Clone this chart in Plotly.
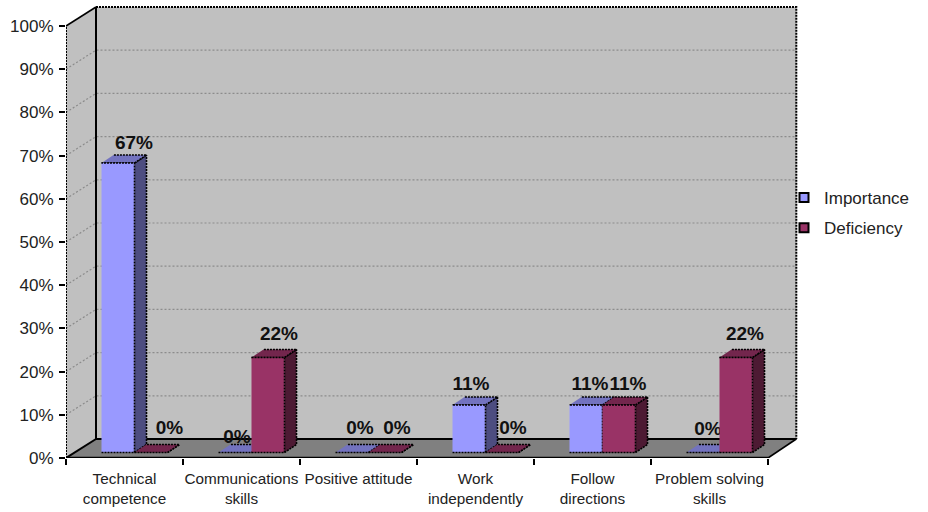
import plotly.graph_objects as go

categories = ["Technical<br>competence", "Communications<br>skills", "Positive attitude",
              "Work<br>independently", "Follow<br>directions", "Problem solving<br>skills"]
importance = [67, 0, 0, 11, 11, 0]
deficiency = [0, 22, 0, 0, 11, 22]
percent_ticks = list(range(0, 101, 10))

# Pixel scale of the axes and the oblique projection used for the 3D look
PX_X = 117.0
PX_Y = 4.32
WALL_DX = 30 / PX_X
WALL_DY = 19 / PX_Y
WALL_RIGHT = 6 + 28.3 / PX_X
BAR_W = 33 / PX_X
BAR_START = 35.5 / PX_X
BAR_DX = 12 / PX_X
BAR_DY = 8 / PX_Y
BAR_LIFT = 5.5 / PX_Y

# Small per-label nudges (px) of the value labels: right, up
imp_nudge = [(10, 11), (-4, 6), (2, 15), (-4, 11.5), (-2, 11.5), (-1, 14)]
def_nudge = [(12.5, 15), (5, 14), (6, 15), (5, 15), (3, 11.5), (3, 14)]

fig = go.Figure()


def poly(xs, ys, fill, line="rgba(0,0,0,0)", width=0, dash="solid"):
    fig.add_trace(go.Scatter(x=xs, y=ys, mode="lines", fill="toself", fillcolor=fill,
                             line=dict(color=line, width=width, dash=dash),
                             hoverinfo="skip", showlegend=False))


def edge(xs, ys, color="#000000", width=2, dash="solid"):
    fig.add_trace(go.Scatter(x=xs, y=ys, mode="lines",
                             line=dict(color=color, width=width, dash=dash),
                             hoverinfo="skip", showlegend=False))


# Walls and floor
poly([0, WALL_DX, WALL_DX, 0], [0, WALL_DY, 100 + WALL_DY, 100], "#C0C0C0")
poly([WALL_DX, WALL_RIGHT, WALL_RIGHT, WALL_DX],
     [WALL_DY, WALL_DY, 100 + WALL_DY, 100 + WALL_DY], "#C0C0C0")
poly([0, 6, WALL_RIGHT, WALL_DX], [0, 0, WALL_DY, WALL_DY], "#808080")

# Gridlines across the side and back walls
for v in percent_ticks[1:-1]:
    edge([0, WALL_DX, WALL_RIGHT], [v, v + WALL_DY, v + WALL_DY],
         color="#8C8C8C", width=1.2, dash="2px,2px")

# Wall and floor outlines
DOT = "2px,1px"
edge([0, 0], [0, 100], width=2, dash=DOT)
edge([0, WALL_DX], [100, 100 + WALL_DY], width=1.6)
edge([WALL_DX, WALL_RIGHT, WALL_RIGHT], [100 + WALL_DY, 100 + WALL_DY, WALL_DY], width=2, dash=DOT)
edge([WALL_DX, WALL_DX], [WALL_DY, 100 + WALL_DY], width=2)
edge([WALL_DX, WALL_RIGHT], [WALL_DY, WALL_DY], width=2)
edge([0, WALL_DX], [0, WALL_DY], width=2)
edge([6, WALL_RIGHT], [0, WALL_DY], width=1.6)
edge([0, 6], [0, 0], width=2.4)


def bar(x0, v, front, top, side):
    """One oblique bar: top and side faces behind the front rectangle."""
    x1 = x0 + BAR_W
    b = BAR_LIFT
    t = v + BAR_LIFT
    style = dict(line="#000000", width=1.6, dash=DOT)
    poly([x1, x1 + BAR_DX, x1 + BAR_DX, x1], [b, b + BAR_DY, t + BAR_DY, t], side, **style)
    poly([x0, x1, x1 + BAR_DX, x0 + BAR_DX], [t, t, t + BAR_DY, t + BAR_DY], top, **style)
    if v > 0:
        poly([x0, x1, x1, x0], [b, b, t, t], front, **style)


def value_label(x0, v, nudge):
    fig.add_trace(go.Scatter(
        x=[x0 + BAR_W / 2 + 6 / PX_X + nudge[0] / PX_X],
        y=[v + BAR_LIFT + BAR_DY + nudge[1] / PX_Y],
        mode="text", text=[f"{v}%"], textposition="middle center",
        textfont=dict(family="Liberation Sans", size=19, color="#111111", weight="bold"),
        hoverinfo="skip", showlegend=False))


for i in range(len(categories)):
    x_imp = i + BAR_START
    x_def = x_imp + BAR_W
    bar(x_imp, importance[i], "#9999FF", "#7373BF", "#4D4D80")
    value_label(x_imp, importance[i], imp_nudge[i])
    bar(x_def, deficiency[i], "#993366", "#73264D", "#4D1A33")
    value_label(x_def, deficiency[i], def_nudge[i])

# Legend keys
for name, colour in (("Importance", "#9999FF"), ("Deficiency", "#993366")):
    fig.add_trace(go.Scatter(x=[None], y=[None], mode="markers", name=name, legendgroup=name,
                             marker=dict(symbol="square", size=9, color=colour,
                                         line=dict(color="#000000", width=2))))

fig.update_layout(
    width=928, height=512, autosize=False,
    margin=dict(l=66, r=128, t=5, b=54, pad=0, autoexpand=False),
    paper_bgcolor="#FFFFFF", plot_bgcolor="#FFFFFF",
    font=dict(family="Liberation Sans", color="#222222"),
    xaxis=dict(range=[0, 734 / PX_X], showgrid=False, zeroline=False, showline=False,
               tickmode="array", tickvals=[i + 0.5 for i in range(6)], ticktext=categories,
               ticks="", tickfont=dict(size=15.3), ticklabelstandoff=10,
               minor=dict(tickmode="array", tickvals=list(range(7)), ticks="outside",
                          ticklen=6, tickwidth=2, tickcolor="#000000", showgrid=False)),
    yaxis=dict(range=[0, 453 / PX_Y], showgrid=False, zeroline=False, showline=False,
               tickmode="array", tickvals=percent_ticks,
               ticktext=[f"{v}%" for v in percent_ticks], ticks="outside",
               ticklen=6, tickwidth=2, tickcolor="#000000",
               tickfont=dict(size=17), ticklabelstandoff=2),
    legend=dict(x=784 / 928, y=1 - 180 / 512, xref="container", yref="container",
                xanchor="left", yanchor="top",
                traceorder="grouped", tracegroupgap=5, font=dict(size=17),
                bgcolor="rgba(0,0,0,0)", borderwidth=0),
)

fig.write_html("out.html", config=dict(displayModeBar=False))
